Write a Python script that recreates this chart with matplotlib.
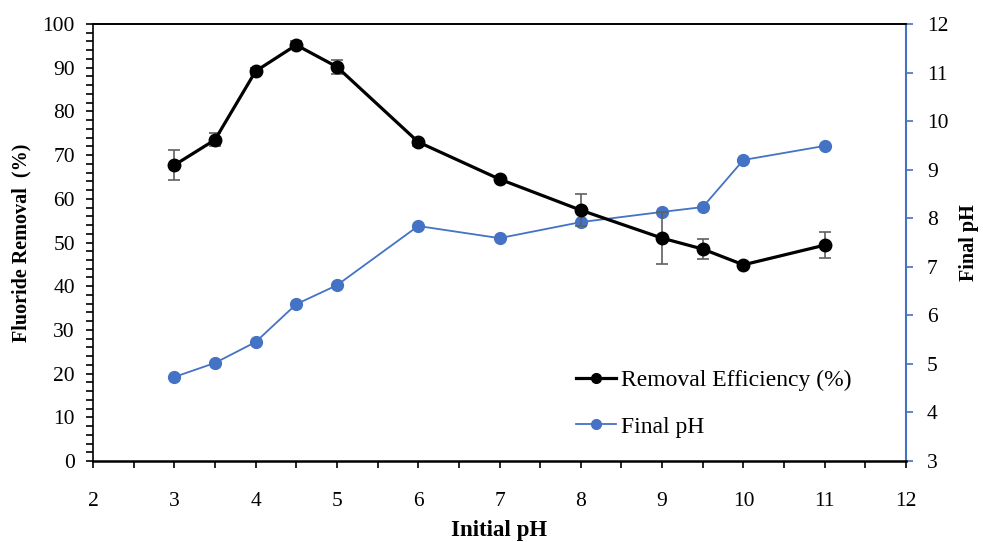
import matplotlib
matplotlib.use("Agg")
import matplotlib.pyplot as plt
from matplotlib.ticker import MultipleLocator
from matplotlib.lines import Line2D

plt.rcParams['font.family'] = ['Liberation Serif', 'DejaVu Serif']

initial_ph = [3, 3.5, 4, 4.5, 5, 6, 7, 8, 9, 9.5, 10, 11]
removal = [67.7, 73.5, 89.2, 95.2, 90.2, 73.0, 64.5, 57.4, 51.0, 48.5, 44.9, 49.4]
removal_err = [3.4, 1.5, 0.8, 0.8, 1.6, 0.8, 0.5, 3.7, 6.0, 2.2, 0.5, 2.9]
final_ph = [4.73, 5.02, 5.45, 6.23, 6.62, 7.84, 7.59, 7.92, 8.13, 8.23, 9.20, 9.49]

blue = '#4472C4'

fig = plt.figure(figsize=(9.83, 5.42), dpi=100)
ax = fig.add_axes([0.0946, 0.1494, 0.8271, 0.8063])
ax2 = ax.twinx()

ax.set_zorder(ax2.get_zorder() + 1)
ax.patch.set_visible(False)

ax.errorbar(initial_ph, removal, yerr=removal_err, color='black', lw=2.3,
            marker='o', ms=9, ecolor='#606060', elinewidth=1.2, capsize=4,
            capthick=1.2, zorder=3)
ax2.plot(initial_ph, final_ph, color=blue, lw=1.3, marker='o', ms=8.5)

ax.set_xlim(2, 12)
ax.set_ylim(0, 100)
ax2.set_ylim(3, 12)

ax.xaxis.set_major_locator(MultipleLocator(1))
ax.xaxis.set_minor_locator(MultipleLocator(0.5))
ax.yaxis.set_major_locator(MultipleLocator(10))
ax.yaxis.set_minor_locator(MultipleLocator(2))
ax2.yaxis.set_major_locator(MultipleLocator(1))

ax.tick_params(axis='x', which='both', direction='out', length=5, width=1.2,
               labelsize=15.5, pad=17)
ax.tick_params(axis='y', which='both', direction='out', length=5, width=1.2,
               labelsize=15.5, pad=8)
ax2.tick_params(axis='y', direction='out', length=5, width=1.2, color=blue,
                labelsize=15.5, pad=10)

for s in ['left', 'top']:
    ax.spines[s].set_linewidth(1.2)
ax.spines['bottom'].set_linewidth(1.8)
ax.spines['right'].set_visible(False)
ax2.spines['right'].set_color(blue)
ax2.spines['right'].set_linewidth(1.5)
ax2.spines['top'].set_linewidth(1.2)
for s in ['left', 'bottom']:
    ax2.spines[s].set_visible(False)

ax.set_xlabel('Initial pH', fontsize=16.5, fontweight='bold', labelpad=7)
ax.set_ylabel('Fluoride Removal  (%)', fontsize=14.5, fontweight='bold', labelpad=8)
ax2.set_ylabel('Final pH', fontsize=14.5, fontweight='bold', labelpad=8)

handles = [Line2D([], [], color='black', lw=2.3, marker='o', ms=7),
           Line2D([], [], color=blue, lw=1.3, marker='o', ms=7)]
labels = ['Removal Efficiency (%)', 'Final pH']
ax.legend(handles, labels, loc='lower left',
          bbox_to_anchor=(0.568, 0.005), frameon=False, fontsize=17,
          labelspacing=1.05, handlelength=1.7, handletextpad=0.2)

fig.savefig('out.png', dpi=100)
